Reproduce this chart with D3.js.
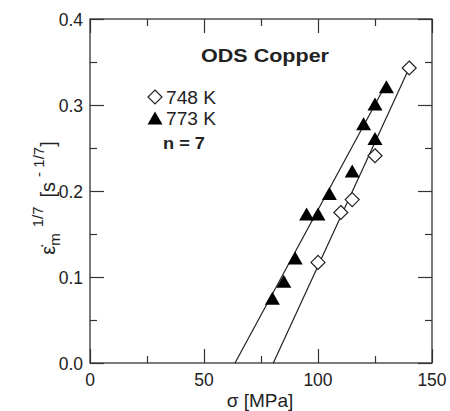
<!DOCTYPE html>
<html>
<head>
<meta charset="utf-8">
<script src="https://cdn.jsdelivr.net/npm/d3@7"></script>
<style>
  html, body { margin: 0; padding: 0; background: #fff; }
  svg { display: block; font-family: "Liberation Sans", Arial, sans-serif; }
</style>
</head>
<body>
<svg id="chart" width="450" height="411"></svg>
<script>
// data
const sigma748 = [100, 110, 115, 125, 140];
const rate748 = [0.117, 0.175, 0.19, 0.241, 0.343];
const sigma773 = [80, 85, 90, 95, 100, 105, 115, 120, 125, 125, 130];
const rate773 = [0.074, 0.094, 0.121, 0.172, 0.172, 0.196, 0.222, 0.277, 0.26, 0.3, 0.32];
// fitted lines (end points)
const fit748 = [[80.4, 0], [140, 0.343]];
const fit773 = [[63.6, 0], [130, 0.325]];
const xMajor = [0, 50, 100, 150];
const xMinor = [25, 75, 125];
const yMajor = [0, 0.1, 0.2, 0.3, 0.4];
const yMinor = [0.05, 0.15, 0.25, 0.35];

const svg = d3.select("#chart");
const plotL = 90, plotR = 432, plotT = 19, plotB = 363;
const x = d3.scaleLinear().domain([0, 150]).range([plotL, plotR]);
const y = d3.scaleLinear().domain([0, 0.4]).range([plotB, plotT]);

const ink = "#222";

// frame
svg.append("rect")
  .attr("x", plotL).attr("y", plotT)
  .attr("width", plotR - plotL).attr("height", plotB - plotT)
  .attr("fill", "none").attr("stroke", "#333").attr("stroke-width", 1.3);

// inward ticks on all four sides
function ticks(axis, vals, size, pos) {
  svg.append("g")
    .attr("transform", pos)
    .call(axis.tickValues(vals).tickSize(-size).tickFormat(""))
    .call((g) => g.select(".domain").remove())
    .call((g) => g.selectAll("line").attr("stroke", "#333").attr("stroke-width", 1.2));
}
ticks(d3.axisBottom(x), xMajor, 14, `translate(0,${plotB})`);
ticks(d3.axisBottom(x), xMinor, 7, `translate(0,${plotB})`);
ticks(d3.axisTop(x), xMajor, 14, `translate(0,${plotT})`);
ticks(d3.axisTop(x), xMinor, 7, `translate(0,${plotT})`);
ticks(d3.axisLeft(y), yMajor, 14, `translate(${plotL},0)`);
ticks(d3.axisLeft(y), yMinor, 7, `translate(${plotL},0)`);
ticks(d3.axisRight(y), yMajor, 14, `translate(${plotR},0)`);
ticks(d3.axisRight(y), yMinor, 7, `translate(${plotR},0)`);

// tick labels
svg.append("g").selectAll("text").data(xMajor).join("text")
  .attr("x", (d) => x(d)).attr("y", 386)
  .attr("text-anchor", "middle").attr("font-size", 17.5).attr("fill", ink)
  .text((d) => d);
svg.append("g").selectAll("text").data(yMajor).join("text")
  .attr("x", 83).attr("y", (d) => y(d) + 6.5)
  .attr("text-anchor", "end").attr("font-size", 17.5).attr("fill", ink)
  .text((d) => d.toFixed(1));

// axis titles
svg.append("text")
  .attr("x", 260).attr("y", 407)
  .attr("text-anchor", "middle").attr("font-size", 19).attr("fill", ink)
  .text("σ [MPa]");

const yl = svg.append("text")
  .attr("transform", "translate(55,198) rotate(-90)")
  .attr("text-anchor", "middle").attr("font-size", 20).attr("fill", ink);
yl.append("tspan").text("ε\u0307");
yl.append("tspan").attr("font-size", 15).attr("dy", 5).text("m");
yl.append("tspan").attr("font-size", 15).attr("dy", -17).attr("dx", 6).text("1/7");
yl.append("tspan").attr("dy", 12).attr("dx", 9).text("[s");
yl.append("tspan").attr("font-size", 15).attr("dy", -11).attr("dx", 5).text("- 1/7");
yl.append("tspan").attr("dy", 11).text("]");

// fitted lines
const line = d3.line().x((d) => x(d[0])).y((d) => y(d[1]));
svg.append("g").selectAll("path").data([fit748, fit773]).join("path")
  .attr("d", line).attr("fill", "none").attr("stroke", ink).attr("stroke-width", 1.2);

// markers
const diamond = "M0,-7L7,0L0,7L-7,0Z";
const triangle = "M0,-7.5L7.5,5.5L-7.5,5.5Z";
svg.append("g").selectAll("path").data(sigma773).join("path")
  .attr("transform", (d, i) => `translate(${x(d)},${y(rate773[i])})`)
  .attr("d", triangle).attr("fill", "#000");
svg.append("g").selectAll("path").data(sigma748).join("path")
  .attr("transform", (d, i) => `translate(${x(d)},${y(rate748[i])})`)
  .attr("d", diamond).attr("fill", "#fff").attr("stroke", ink).attr("stroke-width", 1.2);

// annotations
svg.append("text").attr("x", 201).attr("y", 62)
  .attr("font-size", 19).attr("font-weight", "bold").attr("fill", ink)
  .attr("textLength", 128).attr("lengthAdjust", "spacingAndGlyphs").text("ODS Copper");
svg.append("path").attr("transform", "translate(155,97)").attr("d", diamond)
  .attr("fill", "#fff").attr("stroke", ink).attr("stroke-width", 1.2);
svg.append("text").attr("x", 166).attr("y", 103.5).attr("font-size", 17.5).attr("fill", ink)
  .attr("textLength", 50).attr("lengthAdjust", "spacingAndGlyphs").text("748 K");
svg.append("path").attr("transform", "translate(155,119)").attr("d", triangle).attr("fill", "#000");
svg.append("text").attr("x", 166).attr("y", 125).attr("font-size", 17.5).attr("fill", ink)
  .attr("textLength", 50).attr("lengthAdjust", "spacingAndGlyphs").text("773 K");
svg.append("text").attr("x", 163).attr("y", 149).attr("font-size", 16.5).attr("font-weight", "bold")
  .attr("fill", ink).attr("textLength", 42).attr("lengthAdjust", "spacingAndGlyphs").text("n = 7");
</script>
</body>
</html>
